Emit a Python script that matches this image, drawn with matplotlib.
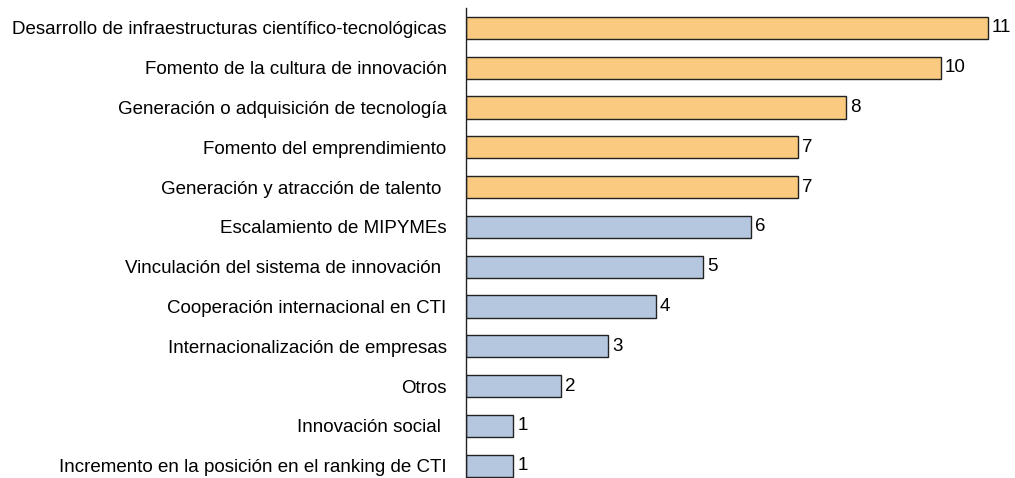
import matplotlib
matplotlib.use('Agg')
import matplotlib.pyplot as plt

plt.rcParams['font.family'] = ['Liberation Sans', 'DejaVu Sans']

# datos
categorias = [
    'Desarrollo de infraestructuras científico-tecnológicas',
    'Fomento de la cultura de innovación',
    'Generación o adquisición de tecnología',
    'Fomento del emprendimiento',
    'Generación y atracción de talento ',
    'Escalamiento de MIPYMEs',
    'Vinculación del sistema de innovación ',
    'Cooperación internacional en CTI',
    'Internacionalización de empresas',
    'Otros',
    'Innovación social ',
    'Incremento en la posición en el ranking de CTI',
]
valores = [11, 10, 8, 7, 7, 6, 5, 4, 3, 2, 1, 1]
colores = ['#F9CA80'] * 5 + ['#B4C7DE'] * 7

fig = plt.figure(figsize=(10.15, 4.78), dpi=100)
ax = fig.add_axes([466 / 1015, 0, 1 - 466 / 1015, 1 - 8 / 478])

pos = list(range(len(categorias)))
barras = ax.barh(pos, valores, height=0.56, color=colores,
                 edgecolor='#222222', linewidth=1.0)
ax.bar_label(barras, labels=[str(v) for v in valores], padding=3, fontsize=13.5)

ax.set_yticks(pos)
ax.set_yticklabels(categorias, fontsize=13.5)
ax.tick_params(axis='y', length=0, pad=14)
ax.set_ylim(11.31, -0.5)
ax.set_xlim(0, 11.57)
ax.set_xticks([])

for lado in ['top', 'right', 'bottom']:
    ax.spines[lado].set_visible(False)
ax.spines['left'].set_color('#222222')
ax.spines['left'].set_linewidth(1.0)

fig.savefig('out.png', dpi=100, facecolor='white')
plt.close()
